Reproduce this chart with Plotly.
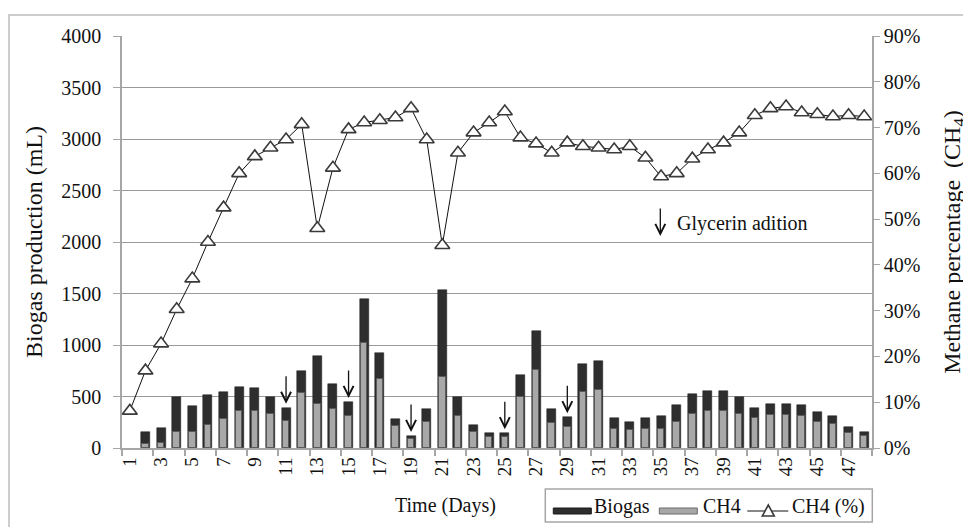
import plotly.graph_objects as go

days = list(range(1, 49))
biogas = [None, 155, 198, 500, 403, 514, 540, 595, 582, 500, 390, 751, 898, 621, 446, 1444,
          927, 283, 117, 377, 1532, 491, 224, 143, 143, 706, 1132, 377, 299, 816, 846, 296,
          250, 296, 309, 416, 524, 556, 556, 491, 390, 432, 432, 416, 351, 312, 205, 159]
ch4 = [None, 36, 46, 156, 156, 224, 286, 361, 361, 335, 263, 530, 432, 377, 312, 1024,
       667, 215, 85, 254, 686, 312, 156, 107, 105, 491, 758, 241, 205, 546, 563, 189,
       176, 189, 189, 254, 335, 361, 361, 335, 296, 322, 322, 312, 254, 231, 143, 117]
ch4_pct = [8.1, 16.9, 22.8, 30.3, 37.0, 45.0, 52.5, 60.0, 63.7, 65.6, 67.4, 70.7, 48.0,
           61.2, 69.6, 71.1, 71.6, 72.2, 74.2, 67.4, 44.3, 64.5, 68.9, 71.1, 73.5, 67.8,
           66.5, 64.5, 66.7, 65.9, 65.6, 65.2, 65.9, 63.4, 59.3, 60.0, 63.2, 65.2, 66.7,
           68.9, 72.7, 74.2, 74.6, 73.3, 72.9, 72.4, 72.7, 72.4]
glycerin_days = [11, 15, 19, 25, 29]
tick_days = list(range(1, 48, 2))
series_names = ["Biogas", "CH4", "CH4 (%)"]

FONT = "Liberation Serif, Times New Roman, serif"
AX = "#a6a6a6"
DARK = "#2e2e2e"
LIGHT = "#a8a8a8"
OFF = 8  # page body margin
W, H = 971 - OFF, 527 - OFF
L, R, T, B = 121.7 - OFF, 871.7 - OFF, 36 - OFF, 448 - OFF
PW, PH = R - L, B - T


def px(x):  # screen x -> paper
    return (x - OFF - L) / PW


def py(y):  # screen y -> paper
    return (B - (y - OFF)) / PH


fig = go.Figure()
fig.add_trace(go.Bar(x=days, y=biogas, name=series_names[0], width=0.58, showlegend=False,
                     marker=dict(color=DARK, line=dict(color="#1a1a1a", width=0.5))))
fig.add_trace(go.Bar(x=days, y=ch4, name=series_names[1], width=0.42, showlegend=False,
                     marker=dict(color=LIGHT, line=dict(color="#5a5a5a", width=1))))
fig.add_trace(go.Scatter(x=days, y=[v / 100 for v in ch4_pct], name=series_names[2],
                         yaxis="y2", showlegend=False,
                         mode="lines+markers", line=dict(color="#111111", width=1),
                         marker=dict(symbol="triangle-up", size=13, color="white",
                                     line=dict(color="#3a3a3a", width=1.6))))

for d in glycerin_days:
    fig.add_annotation(x=d, y=biogas[d - 1], xref="x", yref="y", text="",
                       showarrow=True, ax=0, ay=-33, standoff=4,
                       arrowhead=5, arrowsize=1.5, arrowwidth=1.3, arrowcolor="#111111")

fig.add_annotation(x=px(660), y=py(236), xref="paper", yref="paper",
                   text="", showarrow=True, ax=0, ay=-29, arrowhead=5, arrowsize=1.5,
                   arrowwidth=1.3, arrowcolor="#111111")
fig.add_annotation(x=px(675), y=py(223), xref="paper", yref="paper",
                   text="Glycerin adition", showarrow=False, xanchor="left", yanchor="middle",
                   font=dict(family=FONT, size=20, color="#111111"))
fig.add_annotation(x=px(445), y=py(505), xref="paper", yref="paper",
                   text="Time (Days)", showarrow=False, xanchor="center", yanchor="middle",
                   font=dict(family=FONT, size=20, color="#111111"))

# outer frame
fig.add_shape(type="rect", xref="paper", yref="paper",
              x0=px(8.7), x1=px(990), y0=py(545), y1=py(15),
              line=dict(color="#bdbdbd", width=1.5), fillcolor="rgba(0,0,0,0)", layer="below")

# custom legend (box, swatches, labels)
fig.add_shape(type="rect", xref="paper", yref="paper",
              x0=px(545), x1=px(872), y0=py(522), y1=py(489),
              line=dict(color="#a6a6a6", width=1.5), fillcolor="white")
fig.add_shape(type="rect", xref="paper", yref="paper",
              x0=px(553), x1=px(591), y0=py(514), y1=py(508),
              line=dict(color="#1a1a1a", width=1), fillcolor=DARK)
fig.add_shape(type="rect", xref="paper", yref="paper",
              x0=px(659), x1=px(697), y0=py(514), y1=py(508),
              line=dict(color="#6a6a6a", width=1), fillcolor=LIGHT)
fig.add_shape(type="line", xref="paper", yref="paper",
              x0=px(747), x1=px(788), y0=py(511), y1=py(511),
              line=dict(color="#111111", width=1))
tri = "M {:.5f},{:.5f} L {:.5f},{:.5f} L {:.5f},{:.5f} Z".format(
    px(762), py(516), px(774), py(516), px(768), py(505))
fig.add_shape(type="path", xref="paper", yref="paper", path=tri,
              line=dict(color="#3a3a3a", width=1.6), fillcolor="white")
for xpos, label in zip([592, 701, 790], series_names):
    fig.add_annotation(x=px(xpos), y=py(506), xref="paper", yref="paper", text=label,
                       showarrow=False, xanchor="left", yanchor="middle",
                       font=dict(family=FONT, size=20, color="#111111"))

fig.update_layout(
    width=W, height=H,
    margin=dict(l=L, r=W - R, t=T, b=H - B, autoexpand=False),
    paper_bgcolor="white", plot_bgcolor="white",
    barmode="overlay", bargap=0, showlegend=False,
    font=dict(family=FONT, size=20, color="#111111"),
    xaxis=dict(range=[0.5, 48.5], tickmode="array", tickvals=tick_days,
               ticktext=[str(t) for t in tick_days], tickangle=-90,
               showline=True, linecolor=AX, linewidth=1.5, ticks="", showgrid=False,
               zeroline=False, tickfont=dict(size=19), automargin=False,
               minor=dict(tickmode="array", tickvals=[0.5 + 2 * k for k in range(25)],
                          ticks="outside", ticklen=6, tickcolor=AX, tickwidth=1.5)),
    yaxis=dict(range=[0, 4000], dtick=500, showline=True, linecolor=AX, linewidth=1.5,
               showgrid=True, gridcolor="#9a9a9a", gridwidth=1, ticks="outside",
               ticklen=7, tickcolor=AX, zeroline=False, ticklabelstandoff=8,
               automargin=False,
               title=dict(text="Biogas production (mL)", standoff=12)),
    yaxis2=dict(range=[0, 0.9], dtick=0.1, tickformat=".0%", overlaying="y", side="right",
                showline=True, linecolor=AX, linewidth=1.5, showgrid=False, ticks="outside",
                ticklen=6, tickcolor=AX, zeroline=False, automargin=False,
                title=dict(text="Methane percentage  (CH<sub>4</sub>)", standoff=24)),
)

fig.write_html("out.html")
